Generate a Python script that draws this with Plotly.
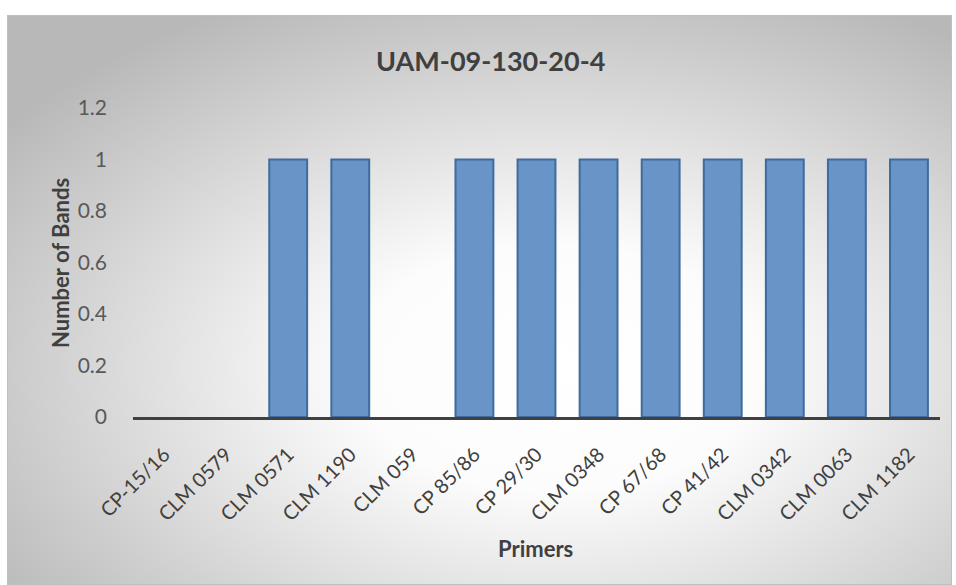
import plotly.graph_objects as go
import base64

primers = ["CP-15/16", "CLM 0579", "CLM 0571", "CLM 1190", "CLM 059", "CP 85/86",
           "CP 29/30", "CLM 0348", "CP 67/68", "CP 41/42", "CLM 0342", "CLM 0063", "CLM 1182"]
bands = [0, 0, 1, 1, 0, 1, 1, 1, 1, 1, 1, 1, 1]
y_ticks = [0, 0.2, 0.4, 0.6, 0.8, 1, 1.2]

W, H = 956, 585
L, R, T, B = 133, 16, 108, 168
pw, ph = W - L - R, H - T - B

def px_x(px):
    return (px - L) / pw

def px_y(py):
    return (H - B - py) / ph

svg = """<svg xmlns='http://www.w3.org/2000/svg' width='945' height='570' preserveAspectRatio='none'>
<defs><radialGradient id='g' cx='58%' cy='62%' r='72%' fx='58%' fy='62%'>
<stop offset='0%' stop-color='#ffffff'/>
<stop offset='30%' stop-color='#fcfcfc'/>
<stop offset='100%' stop-color='#b8b8b8'/>
</radialGradient></defs>
<rect x='0' y='0' width='945' height='570' fill='url(#g)' stroke='#bfbfbf' stroke-width='2'/>
</svg>"""
src = "data:image/svg+xml;base64," + base64.b64encode(svg.encode()).decode()

# no outline drawn for empty (zero) bars, as in the original
outline_widths = [2 if v > 0 else 0 for v in bands]

fig = go.Figure()
fig.add_trace(go.Bar(
    x=primers, y=bands,
    marker=dict(color="#6894c8", line=dict(color="#3f6b9e", width=outline_widths)),
))

fx0, fx1 = px_x(7), px_x(952)
fy0, fy1 = px_y(15), px_y(585)
fig.add_layout_image(dict(
    source=src, xref="paper", yref="paper",
    x=fx0, y=fy0, sizex=fx1 - fx0, sizey=fy0 - fy1,
    xanchor="left", yanchor="top", sizing="stretch", layer="below",
))

font_family = "Lato, Calibri, Open Sans, sans-serif"
fig.update_layout(
    width=W, height=H,
    margin=dict(l=L, r=R, t=T, b=B),
    paper_bgcolor="white", plot_bgcolor="rgba(0,0,0,0)",
    bargap=0.39, showlegend=False,
    font=dict(family=font_family, color="#404040"),
    xaxis=dict(
        tickangle=-45, tickfont=dict(size=20, color="#404040"),
        showline=True, linecolor="#404040", linewidth=3, layer="above traces",
        showgrid=False, ticks="", zeroline=False, ticklabelstandoff=15,
    ),
    yaxis=dict(
        range=[0, 1.2], tickvals=y_ticks, tickfont=dict(size=21, color="#595959"),
        showgrid=False, zeroline=False, showline=False, ticks="",
        ticklabelstandoff=25,
    ),
    annotations=[
        dict(text="<b>UAM-09-130-20-4</b>", xref="paper", yref="paper",
             x=px_x(490), y=px_y(60), xanchor="center", yanchor="middle",
             showarrow=False, font=dict(size=27, color="#404040")),
        dict(text="<b>Number of Bands</b>", xref="paper", yref="paper",
             x=px_x(60), y=px_y(263), xanchor="center", yanchor="middle",
             showarrow=False, textangle=-90, font=dict(size=22, color="#404040")),
        dict(text="<b>Primers</b>", xref="paper", yref="paper",
             x=px_x(535), y=px_y(548), xanchor="center", yanchor="middle",
             showarrow=False, font=dict(size=22, color="#404040")),
    ],
)

fig.write_html("out.html")
